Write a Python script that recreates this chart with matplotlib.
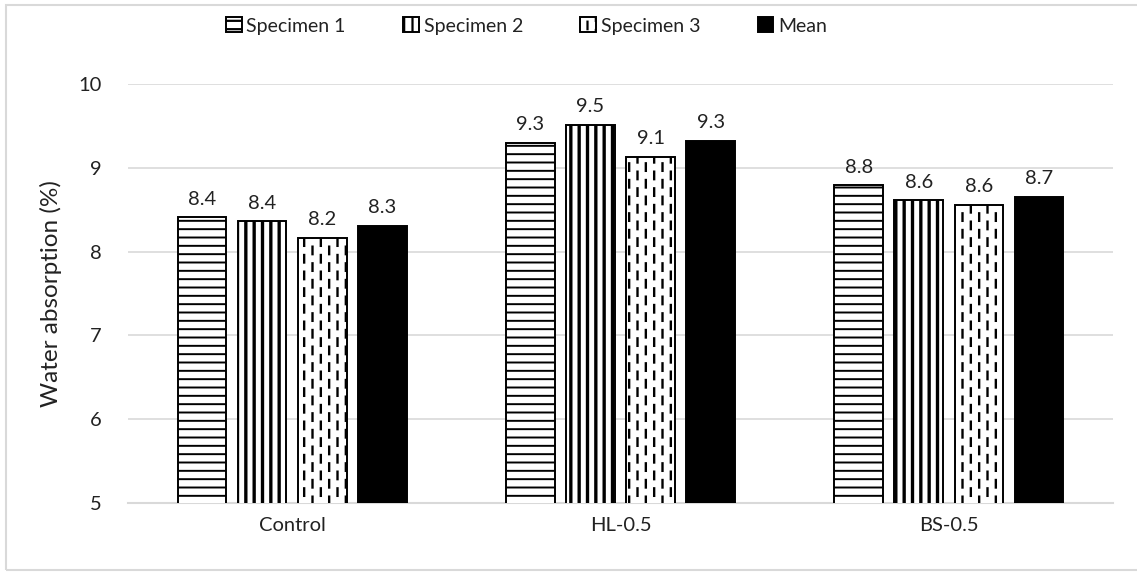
import warnings
import numpy as np
import matplotlib
matplotlib.use("Agg")
import matplotlib.pyplot as plt
import matplotlib.hatch as mhatch
from matplotlib.path import Path
from matplotlib.patches import Rectangle

warnings.filterwarnings("ignore")

categories = ["Control", "HL-0.5", "BS-0.5"]
series_names = ["Specimen 1", "Specimen 2", "Specimen 3", "Mean"]
specimen1 = [8.41, 9.30, 8.79]
specimen2 = [8.36, 9.51, 8.61]
specimen3 = [8.16, 9.13, 8.56]
mean_vals = [8.31, 9.32, 8.65]
yticks = [5, 6, 7, 8, 9, 10]


class DashedVerticalHatch(mhatch.HatchPatternBase):
    # short staggered vertical dashes, drawn for the '!' hatch character
    def __init__(self, hatch, density):
        self.cols = hatch.count("!") * density * 2
        self.rows = hatch.count("!") * density
        self.num_vertices = self.cols * (self.rows + 1) * 2

    def set_vertices_and_codes(self, vertices, codes):
        step_x = 1.0 / self.cols
        step_y = 1.0 / self.rows
        k = 0
        for c in range(self.cols):
            x = (c + 0.5) * step_x
            off = 0.0 if c % 2 == 0 else step_y / 2
            for r in range(-1, self.rows):
                y0 = r * step_y + off + step_y * 0.25
                vertices[k] = (x, y0)
                vertices[k + 1] = (x, y0 + step_y * 0.45)
                codes[k] = Path.MOVETO
                codes[k + 1] = Path.LINETO
                k += 2


mhatch._hatch_types.append(DashedVerticalHatch)

plt.rcParams["font.family"] = ["Lato", "DejaVu Sans"]
plt.rcParams["hatch.linewidth"] = 1.6
plt.rcParams["hatch.color"] = "black"

fig = plt.figure(figsize=(11.37, 5.72), dpi=100)
ax = fig.add_axes([128 / 1137, 1 - 503 / 572, (1113 - 128) / 1137, (503 - 84) / 572])

x = np.arange(len(categories))
width = 0.148
gap = 0.183
data = [specimen1, specimen2, specimen3, mean_vals]
hatches = ["--", "||", "!", None]
hatch_lw = [1.4, 2.4, 1.7, 1.0]
faces = ["white", "white", "white", "black"]

for i, (vals, h, fc, name) in enumerate(zip(data, hatches, faces, series_names)):
    pos = x + (i - 1.5) * gap
    bars = ax.bar(pos, vals, width, bottom=0, color=fc, edgecolor="black",
                  linewidth=1.4, hatch=h, label=name, zorder=3)
    for b, v in zip(bars, vals):
        if hasattr(b, "set_hatch_linewidth"):
            b.set_hatch_linewidth(hatch_lw[i])
        ax.annotate(f"{v:.1f}", (b.get_x() + b.get_width() / 2, v),
                    xytext=(0, 7), textcoords="offset points",
                    ha="center", va="bottom", fontsize=14.5, color="#222222")

ax.set_ylim(5, 10)
ax.set_xlim(-0.5, 2.5)
ax.set_yticks(yticks)
ax.set_xticks(x)
ax.set_xticklabels(categories)
ax.tick_params(axis="both", length=0, labelsize=14.5, colors="#222222")
ax.tick_params(axis="y", pad=19)
ax.tick_params(axis="x", pad=10)
ax.yaxis.grid(True, color="#d9d9d9", linewidth=1.2, zorder=0)
ax.set_axisbelow(True)
for s in ["top", "right", "left"]:
    ax.spines[s].set_visible(False)
ax.spines["bottom"].set_color("#d9d9d9")
ax.spines["bottom"].set_linewidth(1.5)
ax.set_ylabel("Water absorption (%)", fontsize=17.5, color="#222222", labelpad=12)

leg = fig.legend(loc="upper center", bbox_to_anchor=(0.463, 1.0), ncol=4,
                 frameon=False, fontsize=14, handlelength=0.8, handleheight=0.8,
                 handletextpad=0.25, columnspacing=2.95)
for t in leg.get_texts():
    t.set_color("#222222")

# chart border
fig.patches.append(Rectangle((6 / 1137, 2 / 572), 1.0, 565 / 572,
                             transform=fig.transFigure, fill=False,
                             edgecolor="#d9d9d9", linewidth=1.5))

fig.savefig("out.png", dpi=100)
